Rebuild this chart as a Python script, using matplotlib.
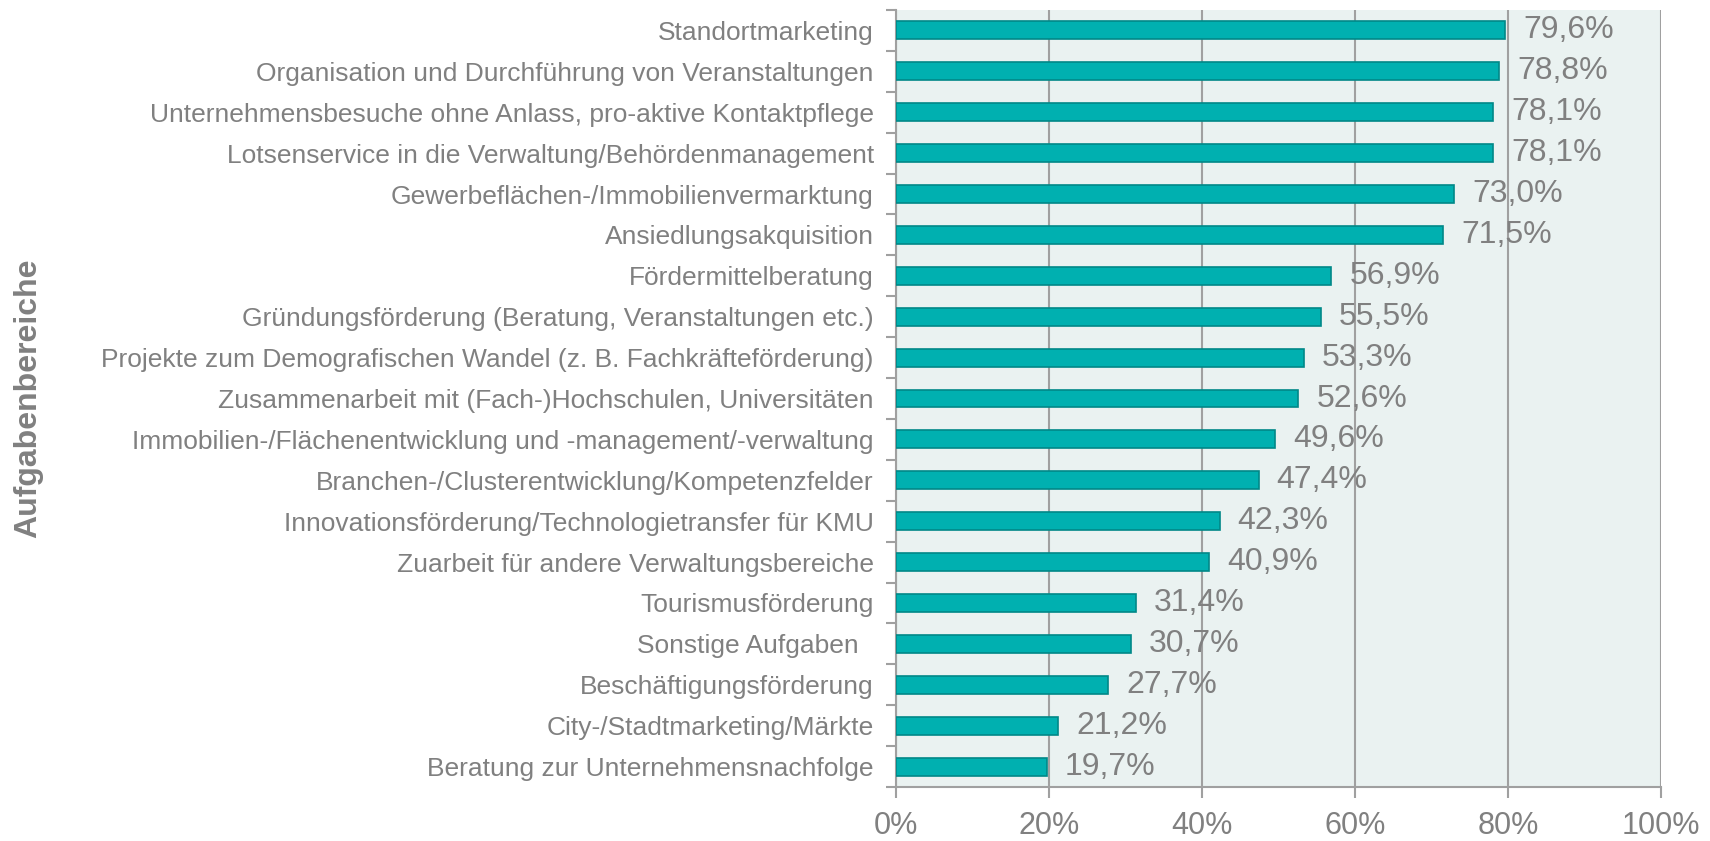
import matplotlib.pyplot as plt
import numpy as np

plt.rcParams['font.family'] = ['Liberation Sans', 'DejaVu Sans']

# Daten (von oben nach unten)
kategorien = [
    "Standortmarketing",
    "Organisation und Durchführung von Veranstaltungen",
    "Unternehmensbesuche ohne Anlass, pro-aktive Kontaktpflege",
    "Lotsenservice in die Verwaltung/Behördenmanagement",
    "Gewerbeflächen-/Immobilienvermarktung",
    "Ansiedlungsakquisition",
    "Fördermittelberatung",
    "Gründungsförderung (Beratung, Veranstaltungen etc.)",
    "Projekte zum Demografischen Wandel (z. B. Fachkräfteförderung)",
    "Zusammenarbeit mit (Fach-)Hochschulen, Universitäten",
    "Immobilien-/Flächenentwicklung und -management/-verwaltung",
    "Branchen-/Clusterentwicklung/Kompetenzfelder",
    "Innovationsförderung/Technologietransfer für KMU",
    "Zuarbeit für andere Verwaltungsbereiche",
    "Tourismusförderung",
    "Sonstige Aufgaben  ",
    "Beschäftigungsförderung",
    "City-/Stadtmarketing/Märkte",
    "Beratung zur Unternehmensnachfolge",
]
werte = [79.6, 78.8, 78.1, 78.1, 73.0, 71.5, 56.9, 55.5, 53.3, 52.6,
         49.6, 47.4, 42.3, 40.9, 31.4, 30.7, 27.7, 21.2, 19.7]
x_ticks = [0, 20, 40, 60, 80, 100]

grau = '#808080'
linien = '#a0a0a0'

fig = plt.figure(figsize=(17.1, 8.41), dpi=100)
ax = fig.add_axes([896 / 1710, 1 - 787 / 841, 765 / 1710, 777 / 841])
ax.set_facecolor('#eaf2f1')

n = len(kategorien)
y = np.arange(n)[::-1]
ax.barh(y, werte, height=0.44, color='#00b0b0', edgecolor='#008888',
        linewidth=1.2, zorder=3)

# Werte-Beschriftungen
for yi, w in zip(y, werte):
    ax.annotate(f"{w:.1f}%".replace('.', ','), xy=(w, yi), xytext=(13, 0),
                textcoords='offset points', va='center', ha='left',
                fontsize=23, color=grau, zorder=4)

ax.set_xlim(0, 100)
ax.set_ylim(-0.5, n - 0.5)
ax.set_xticks(x_ticks)
ax.set_xticklabels([f"{t}%" for t in x_ticks], fontsize=22, color=grau)
ax.set_yticks(y)
ax.set_yticklabels(kategorien, fontsize=19, color=grau)
ax.tick_params(axis='y', length=0, pad=16)
ax.set_yticks(np.arange(-0.5, n, 1), minor=True)
ax.tick_params(axis='y', which='minor', length=7, color=linien, width=1.5)
ax.tick_params(axis='x', length=8, color=linien, width=1.5, pad=9)

ax.grid(axis='x', color=linien, linewidth=1.5, zorder=1)
for s in ['top', 'right']:
    ax.spines[s].set_visible(False)
for s in ['left', 'bottom']:
    ax.spines[s].set_color(linien)
    ax.spines[s].set_linewidth(1.5)

fig.text(28 / 1710, 1 - 398 / 841, "Aufgabenbereiche", rotation=90,
         ha='center', va='center', fontsize=23, fontweight='bold', color=grau)

plt.savefig('out.png', dpi=100)
